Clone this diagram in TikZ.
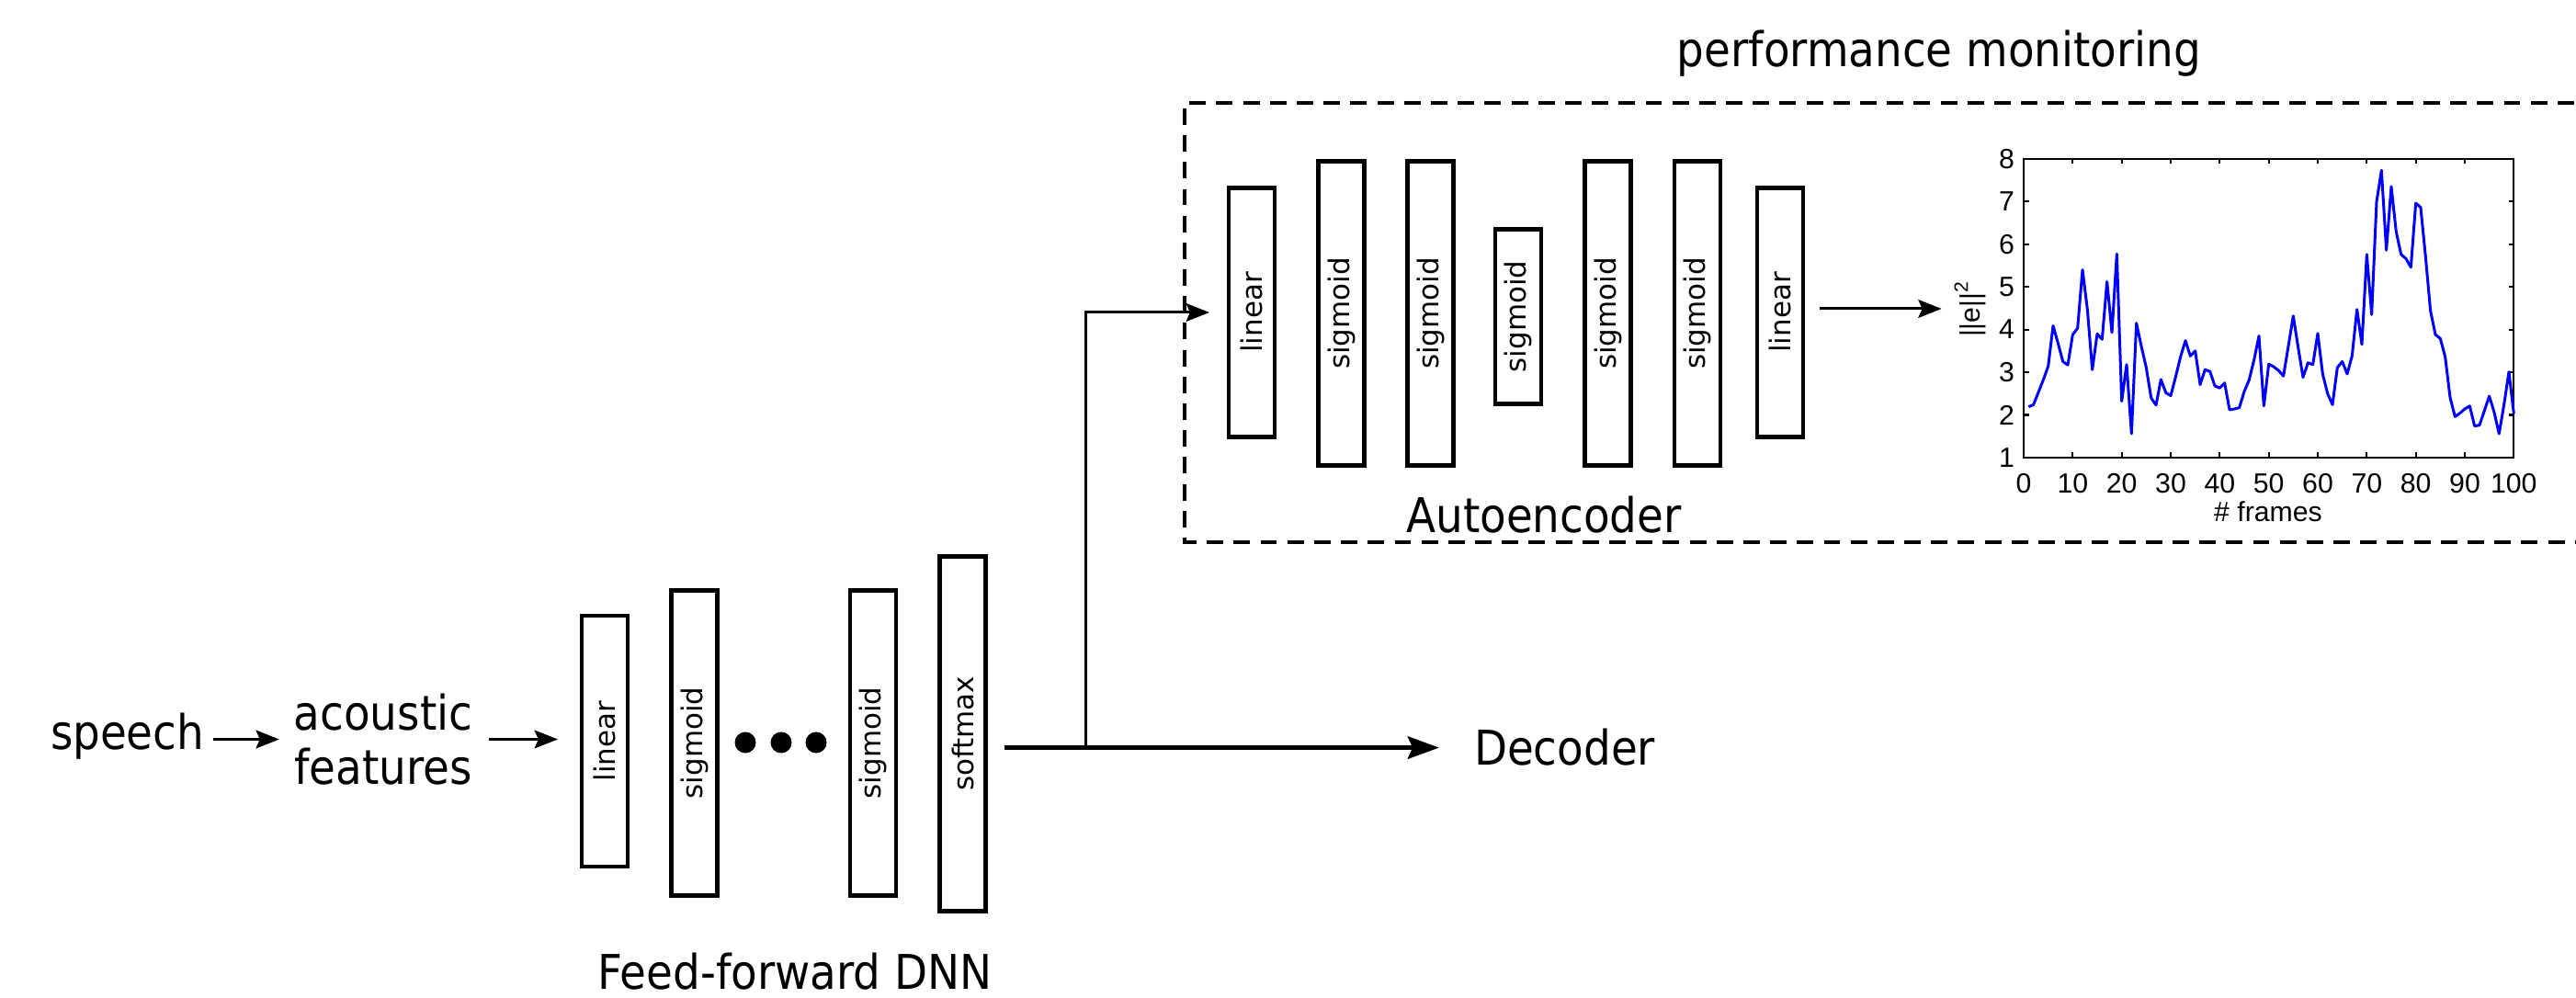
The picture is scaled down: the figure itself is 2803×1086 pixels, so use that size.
\documentclass[tikz,border=0pt]{standalone}
\usepackage{graphicx}
\usepackage{fontspec}
\setmainfont{DejaVu Sans Condensed}
\newfontfamily\layerfont{DejaVu Sans}
\newfontfamily\plotfont{Liberation Sans}
\usetikzlibrary{arrows.meta}
% rotated label inside a layer box
\newcommand\lyr[1]{\rotatebox{90}{#1}}

\begin{document}
\begin{tikzpicture}[x=0.01cm, y=-0.01cm,
  every node/.style={inner sep=0pt, outer sep=0pt},
  maintext/.style={font=\fontsize{14.8pt}{16.8pt}\selectfont},
  layer/.style={draw, line width=1.3pt, minimum width=0.5cm,
    font=\layerfont\fontsize{8.8pt}{10pt}\selectfont},
  thinarrow/.style={line width=0.85pt, -{Stealth[length=7.2pt, width=5.6pt, inset=1.2pt]}},
  mainarrow/.style={line width=1.45pt, -{Stealth[length=9.7pt, width=6.9pt, inset=1.5pt]}},
  dot/.style={circle, fill, minimum size=0.23cm},
  frame/.style={line width=1.3pt, dash pattern=on 5.1pt off 3.2pt},
  axis/.style={line width=0.6pt},
  plottext/.style={font=\plotfont\fontsize{8.6pt}{10pt}\selectfont},
]
\useasboundingbox (0,0) rectangle (2803,1086);

% ---- input side
\node[maintext, anchor=base west] (speech) at (55,816) {speech};
\node[maintext, align=center] (feat) at (417,804.5) {acoustic\\features};

% ---- feed-forward DNN
\node[layer, minimum height=2.73cm] (dlin)  at (658,806.5)  {\lyr{linear}};
\node[layer, minimum height=3.32cm] (dsig1) at (755.5,808.5) {\lyr{sigmoid}};
\node[dot] (dot1) at (811,808) {};
\node[dot] (dot2) at (850,808) {};
\node[dot] (dot3) at (888,808) {};
\node[layer, minimum height=3.32cm] (dsig2) at (950,808.5)  {\lyr{sigmoid}};
\node[layer, minimum height=3.86cm] (dsmx)  at (1047.5,798.5) {\lyr{softmax}};
\node[maintext, anchor=base] (ffd) at (865,1076) {Feed-forward DNN};

\node[maintext, anchor=base west] (dec) at (1604,833) {Decoder};

% ---- autoencoder
\node[layer, minimum height=2.71cm] (alin1) at (1362,340)   {\lyr{linear}};
\node[layer, minimum height=3.31cm] (asig1) at (1459.5,341) {\lyr{sigmoid}};
\node[layer, minimum height=3.31cm] (asig2) at (1556.5,341) {\lyr{sigmoid}};
\node[layer, minimum height=1.90cm] (asig3) at (1652,344.5) {\lyr{sigmoid}};
\node[layer, minimum height=3.31cm] (asig4) at (1749.5,341) {\lyr{sigmoid}};
\node[layer, minimum height=3.31cm] (asig5) at (1847,341)   {\lyr{sigmoid}};
\node[layer, minimum height=2.71cm] (alin2) at (1937,340)   {\lyr{linear}};
\node[maintext, anchor=base] (ae) at (1680,580) {Autoencoder};

% ---- monitoring frame (open to the right)
\draw[frame] (2830,112) -- (1289,112) -- (1289,590) -- (2830,590);
\node[maintext, anchor=base] (pm) at (2110,73) {performance monitoring};

% ---- connectors
\draw[thinarrow, shorten <=0.1cm, shorten >=0.16cm] (speech.east |- feat.west) -- (feat.west);
\draw[thinarrow, shorten <=0.18cm, shorten >=0.26cm] (feat.east) -- (feat.east -| dlin.west);
\draw[mainarrow, shorten <=0.2cm, shorten >=0.38cm] (dsmx.east |- dec.west) -- (dec.west);
\coordinate (split) at (1181,815);
\draw[thinarrow, shorten >=0.21cm] (split) |- (alin1.west);

% ---- reconstruction error plot
\node[plottext] (elab) at (2144,336) {\lyr{||e||\textsuperscript{2}}};
\draw[thinarrow, shorten >=0.14cm] (alin2.east |- elab.west) ++(0.18cm,0) coordinate (aeout) (aeout) -- (elab.west);
\node[plottext, anchor=base] (xlab) at (2468,568) {\# frames};

\begin{scope}[shift={(2202,544.43)}, x=0.0533cm, y=0.4643cm, plottext]
  \draw[axis] (0,1) rectangle (100,8);
  \foreach \v in {2,...,7} {
    \draw[axis] (0,\v) -- ++(0.055cm,0);
    \draw[axis] (100,\v) -- ++(-0.055cm,0);
  }
  \foreach \v in {10,20,...,90} {
    \draw[axis] (\v,1) -- ++(0,0.055cm);
    \draw[axis] (\v,8) -- ++(0,-0.055cm);
  }
  \foreach \v in {1,...,8}
    \node[anchor=east] (yt\v) at ([xshift=-0.1cm]0,\v) {\v};
  \foreach \v in {0,10,...,100}
    \node[anchor=north] (xt\v) at ([yshift=-0.17cm]\v,1) {\v};
  \draw[blue, line width=0.85pt, line join=round] plot coordinates {
    (1,2.19) (2,2.24) (3,2.53) (4,2.82) (5,3.14) (6,4.09) (7,3.68) (8,3.25) (9,3.17) (10,3.88)
    (11,4.03) (12,5.40) (13,4.47) (14,3.06) (15,3.90) (16,3.77) (17,5.12) (18,3.93) (19,5.77) (20,2.32)
    (21,3.18) (22,1.56) (23,4.15) (24,3.61) (25,3.11) (26,2.40) (27,2.23) (28,2.83) (29,2.52) (30,2.45)
    (31,2.89) (32,3.36) (33,3.74) (34,3.38) (35,3.50) (36,2.71) (37,3.06) (38,3.02) (39,2.68) (40,2.63)
    (41,2.75) (42,2.12) (43,2.14) (44,2.17) (45,2.55) (46,2.82) (47,3.29) (48,3.85) (49,2.21) (50,3.19)
    (51,3.13) (52,3.04) (53,2.91) (54,3.61) (55,4.32) (56,3.58) (57,2.88) (58,3.22) (59,3.18) (60,3.91)
    (61,2.96) (62,2.50) (63,2.24) (64,3.11) (65,3.25) (66,2.96) (67,3.38) (68,4.47) (69,3.65) (70,5.76)
    (71,4.35) (72,6.99) (73,7.73) (74,5.86) (75,7.35) (76,6.29) (77,5.76) (78,5.66) (79,5.46) (80,6.96)
    (81,6.86) (82,5.70) (83,4.44) (84,3.88) (85,3.79) (86,3.36) (87,2.41) (88,1.96) (89,2.04) (90,2.14)
    (91,2.21) (92,1.74) (93,1.76) (94,2.10) (95,2.44) (96,2.06) (97,1.56) (98,2.24) (99,3.01) (100,2.03)
  };
\end{scope}
\end{tikzpicture}
\end{document}
